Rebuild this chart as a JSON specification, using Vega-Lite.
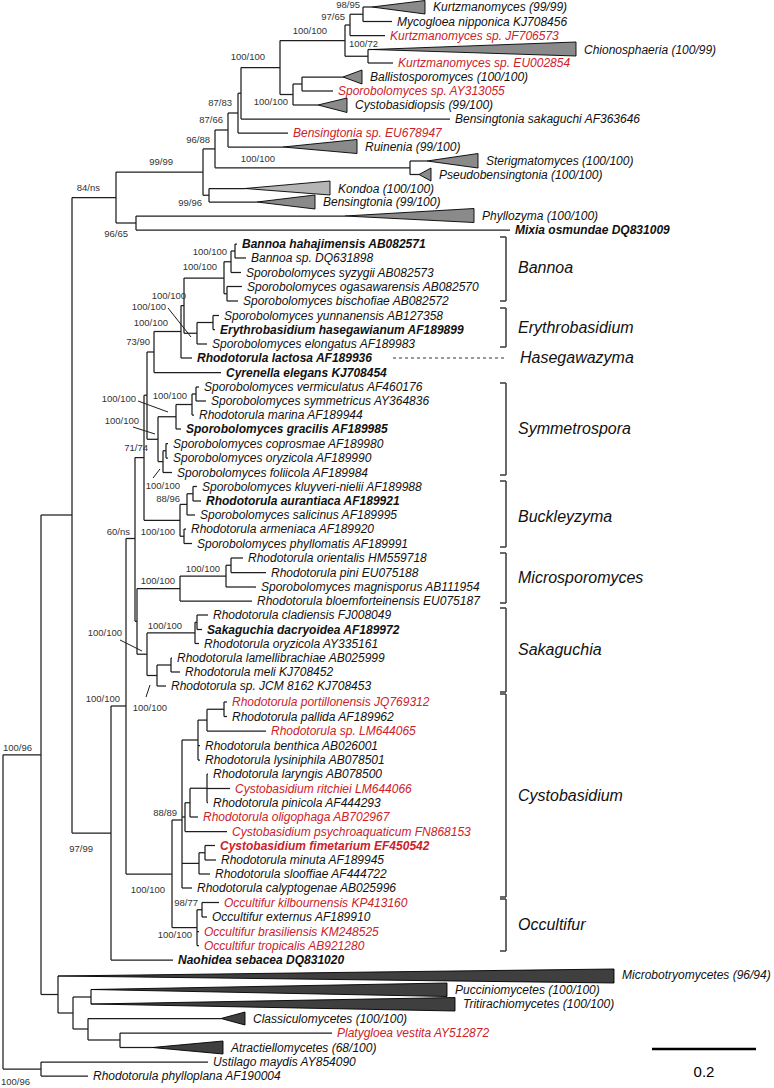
{
  "$schema": "https://vega.github.io/schema/vega-lite/v6.json",
  "width": 774,
  "height": 1088,
  "autosize": {"type": "none"},
  "padding": 0,
  "background": "white",
  "config": {"view": {"stroke": null}},
  "resolve": {"scale": {"color": "independent", "fill": "independent"}},
  "datasets": {
    "v": [
      {"x":3,"y":754.75,"y2":1069},{"x":41,"y":1062,"y2":1076},{"x":41,"y":515,"y2":994.5},{"x":58,"y":976,"y2":1013},
      {"x":73,"y":997,"y2":1029},{"x":91,"y":989.5,"y2":1004},{"x":88,"y":1018.5,"y2":1040},{"x":120,"y":1033,"y2":1047.5},
      {"x":72,"y":197.5,"y2":833},{"x":116,"y":172,"y2":223},{"x":136,"y":216,"y2":230},{"x":203,"y":148.9,"y2":195.25},
      {"x":209,"y":188.5,"y2":202},{"x":215,"y":130,"y2":167.75},{"x":410,"y":161,"y2":174.5},{"x":228,"y":113,"y2":147},
      {"x":238,"y":93.25,"y2":133},{"x":241,"y":67.5,"y2":119},{"x":280,"y":40.5,"y2":94.5},{"x":293,"y":84,"y2":105},
      {"x":302,"y":77,"y2":91},{"x":345,"y":25,"y2":56.25},{"x":350,"y":14.25,"y2":35.5},{"x":363,"y":7,"y2":21.5},
      {"x":368,"y":49.5,"y2":63},{"x":111,"y":706,"y2":960},{"x":126,"y":538.5,"y2":874},{"x":135,"y":457.6,"y2":621.25},
      {"x":144,"y":395.25,"y2":520.3},{"x":147,"y":352,"y2":439.3},{"x":154,"y":331.5,"y2":372.5},{"x":181,"y":305.6,"y2":358},
      {"x":184,"y":278,"y2":333.25},{"x":197,"y":322.5,"y2":344},{"x":213,"y":315.5,"y2":329.5},{"x":224,"y":261.75,"y2":293.75},
      {"x":231,"y":251,"y2":272.5},{"x":235,"y":244,"y2":258},{"x":227,"y":286.5,"y2":301},{"x":158,"y":416.75,"y2":461.6},
      {"x":176,"y":404.5,"y2":429},{"x":192,"y":394,"y2":415},{"x":196,"y":387,"y2":401},{"x":163,"y":450.75,"y2":472.5},
      {"x":166,"y":443.5,"y2":458},{"x":180,"y":504.4,"y2":536.25},{"x":187,"y":493.75,"y2":515},{"x":193,"y":486.5,"y2":501},
      {"x":184,"y":529,"y2":543.5},{"x":137,"y":588.6,"y2":654.2},{"x":180,"y":576.1,"y2":601},{"x":226,"y":565.25,"y2":587},
      {"x":231,"y":558,"y2":572.5},{"x":147,"y":632.9,"y2":675.5},{"x":195,"y":622.25,"y2":643.5},{"x":197,"y":615,"y2":629.5},
      {"x":157,"y":665,"y2":686},{"x":171,"y":658,"y2":672},{"x":172,"y":820,"y2":927.6},{"x":182,"y":740,"y2":888},
      {"x":198,"y":720.1,"y2":760},{"x":207,"y":709.25,"y2":731},{"x":224,"y":702,"y2":716.5},{"x":185,"y":802.75,"y2":831.5},
      {"x":190,"y":788.25,"y2":817},{"x":207,"y":774,"y2":802.5},{"x":199,"y":852.75,"y2":874},{"x":205,"y":845.5,"y2":860},
      {"x":197,"y":909.75,"y2":945.5},{"x":202,"y":902.5,"y2":917}
    ],
    "h": [
      {"x":3,"x2":41,"y":754.75},{"x":3,"x2":41,"y":1069},{"x":41,"x2":208,"y":1062},{"x":41,"x2":88,"y":1076},
      {"x":41,"x2":72,"y":515},{"x":41,"x2":58,"y":994.5},{"x":58,"x2":73,"y":1013},{"x":73,"x2":91,"y":997},
      {"x":73,"x2":88,"y":1029},{"x":88,"x2":221,"y":1018.5},{"x":88,"x2":120,"y":1040},{"x":120,"x2":332,"y":1033},
      {"x":120,"x2":152,"y":1047.5},{"x":72,"x2":116,"y":197.5},{"x":72,"x2":111,"y":833},{"x":116,"x2":203,"y":172},
      {"x":116,"x2":136,"y":223},{"x":136,"x2":345,"y":216},{"x":136,"x2":510,"y":230},{"x":203,"x2":215,"y":148.9},
      {"x":203,"x2":209,"y":195.25},{"x":209,"x2":245,"y":188.5},{"x":209,"x2":257,"y":202},{"x":215,"x2":228,"y":130},
      {"x":215,"x2":410,"y":167.75},{"x":410,"x2":427,"y":161},{"x":410,"x2":419,"y":174.5},{"x":228,"x2":238,"y":113},
      {"x":228,"x2":283,"y":147},{"x":238,"x2":241,"y":93.25},{"x":238,"x2":288,"y":133},{"x":241,"x2":280,"y":67.5},
      {"x":241,"x2":450,"y":119},{"x":280,"x2":345,"y":40.5},{"x":280,"x2":293,"y":94.5},{"x":293,"x2":302,"y":84},
      {"x":293,"x2":318,"y":105},{"x":302,"x2":343,"y":77},{"x":302,"x2":333,"y":91},{"x":345,"x2":350,"y":25},
      {"x":345,"x2":368,"y":56.25},{"x":350,"x2":363,"y":14.25},{"x":350,"x2":385,"y":35.5},{"x":363,"x2":372,"y":7},
      {"x":363,"x2":392,"y":21.5},{"x":368,"x2":372,"y":49.5},{"x":368,"x2":393,"y":63},
      {"x":111,"x2":126,"y":706},{"x":111,"x2":173,"y":960},{"x":126,"x2":135,"y":538.5},{"x":126,"x2":172,"y":874},
      {"x":135,"x2":144,"y":457.6},{"x":135,"x2":137,"y":621.25},{"x":144,"x2":147,"y":395.25},{"x":144,"x2":180,"y":520.3},
      {"x":147,"x2":154,"y":352},{"x":147,"x2":158,"y":439.3},{"x":154,"x2":181,"y":331.5},{"x":154,"x2":221,"y":372.5},
      {"x":181,"x2":184,"y":305.6},{"x":181,"x2":192,"y":358},{"x":184,"x2":224,"y":278},{"x":184,"x2":197,"y":333.25},
      {"x":197,"x2":213,"y":322.5},{"x":197,"x2":207,"y":344},{"x":213,"x2":219,"y":315.5},{"x":213,"x2":215,"y":329.5},
      {"x":224,"x2":231,"y":261.75},{"x":224,"x2":227,"y":293.75},{"x":231,"x2":235,"y":251},{"x":231,"x2":241,"y":272.5},
      {"x":235,"x2":237,"y":244},{"x":235,"x2":246,"y":258},{"x":227,"x2":242,"y":286.5},{"x":227,"x2":238,"y":301},
      {"x":158,"x2":176,"y":416.75},{"x":158,"x2":163,"y":461.6},{"x":176,"x2":192,"y":404.5},{"x":176,"x2":181,"y":429},
      {"x":192,"x2":196,"y":394},{"x":192,"x2":194,"y":415},{"x":196,"x2":199,"y":387},{"x":196,"x2":206,"y":401},
      {"x":163,"x2":166,"y":450.75},{"x":163,"x2":172,"y":472.5},{"x":166,"x2":168,"y":443.5},{"x":166,"x2":168,"y":458},
      {"x":180,"x2":187,"y":504.4},{"x":180,"x2":184,"y":536.25},{"x":187,"x2":193,"y":493.75},{"x":187,"x2":195,"y":515},
      {"x":193,"x2":197,"y":486.5},{"x":193,"x2":201,"y":501},{"x":184,"x2":186,"y":529},{"x":184,"x2":192,"y":543.5},
      {"x":137,"x2":180,"y":588.6},{"x":137,"x2":147,"y":654.2},{"x":180,"x2":226,"y":576.1},{"x":180,"x2":252,"y":601},
      {"x":226,"x2":231,"y":565.25},{"x":226,"x2":256,"y":587},{"x":231,"x2":243,"y":558},{"x":231,"x2":266,"y":572.5},
      {"x":147,"x2":195,"y":632.9},{"x":147,"x2":157,"y":675.5},{"x":195,"x2":197,"y":622.25},{"x":195,"x2":199,"y":643.5},
      {"x":197,"x2":208,"y":615},{"x":197,"x2":202,"y":629.5},{"x":157,"x2":171,"y":665},{"x":157,"x2":166,"y":686},
      {"x":171,"x2":172,"y":658},{"x":171,"x2":180,"y":672},
      {"x":172,"x2":182,"y":820},{"x":172,"x2":197,"y":927.6},{"x":182,"x2":198,"y":740},{"x":182,"x2":185,"y":817},
      {"x":182,"x2":199,"y":863.4},{"x":182,"x2":192,"y":888},{"x":198,"x2":207,"y":720.1},{"x":198,"x2":200,"y":745.5},
      {"x":198,"x2":200,"y":760},{"x":207,"x2":224,"y":709.25},{"x":207,"x2":266,"y":731},{"x":224,"x2":227,"y":702},
      {"x":224,"x2":227,"y":716.5},{"x":185,"x2":190,"y":802.75},{"x":185,"x2":227,"y":831.5},{"x":190,"x2":207,"y":788.25},
      {"x":190,"x2":198,"y":817},{"x":207,"x2":208,"y":774},{"x":207,"x2":230,"y":788.5},{"x":207,"x2":208,"y":802.5},
      {"x":199,"x2":205,"y":852.75},{"x":199,"x2":210,"y":874},{"x":205,"x2":215,"y":845.5},{"x":205,"x2":216,"y":860},
      {"x":197,"x2":202,"y":909.75},{"x":197,"x2":199,"y":931.5},{"x":197,"x2":199,"y":945.5},{"x":202,"x2":219,"y":902.5},
      {"x":202,"x2":207,"y":917}
    ],
    "pointers": [
      {"x":168,"x2":191,"y":308,"y2":337},{"x":138,"x2":168,"y":401,"y2":412},{"x":133,"x2":155,"y":427,"y2":434},
      {"x":153,"x2":160,"y":478,"y2":469},{"x":120,"x2":142,"y":640,"y2":651},{"x":146,"x2":150,"y":697,"y2":685}
    ],
    "triangles": [
      {"clade":"Kurtzmanomyces","x":372,"y":7,"y2":7,"grp":"A"},{"clade":"Kurtzmanomyces","x":425,"y":0.5,"y2":14,"grp":"A"},
      {"clade":"Chionosphaeria","x":372,"y":49.5,"y2":49.5,"grp":"A"},{"clade":"Chionosphaeria","x":576,"y":42,"y2":56,"grp":"A"},
      {"clade":"Ballistosporomyces","x":343,"y":77,"y2":77,"grp":"A"},{"clade":"Ballistosporomyces","x":362,"y":70,"y2":84,"grp":"A"},
      {"clade":"Cystobasidiopsis","x":318,"y":105,"y2":105,"grp":"A"},{"clade":"Cystobasidiopsis","x":347,"y":98,"y2":112.5,"grp":"A"},
      {"clade":"Ruinenia","x":283,"y":147,"y2":147,"grp":"A"},{"clade":"Ruinenia","x":357,"y":139.5,"y2":153.5,"grp":"A"},
      {"clade":"Sterigmatomyces","x":427,"y":161,"y2":161,"grp":"A"},{"clade":"Sterigmatomyces","x":478,"y":153.5,"y2":168,"grp":"A"},
      {"clade":"Pseudobensingtonia","x":419,"y":174.5,"y2":174.5,"grp":"A"},{"clade":"Pseudobensingtonia","x":431,"y":168,"y2":181,"grp":"A"},
      {"clade":"Kondoa","x":245,"y":188.5,"y2":188.5,"grp":"B"},{"clade":"Kondoa","x":330,"y":181,"y2":195,"grp":"B"},
      {"clade":"Bensingtonia","x":257,"y":202,"y2":202,"grp":"A"},{"clade":"Bensingtonia","x":315,"y":195,"y2":209,"grp":"A"},
      {"clade":"Phyllozyma","x":345,"y":216,"y2":216,"grp":"A"},{"clade":"Phyllozyma","x":474,"y":208.5,"y2":222.5,"grp":"A"},
      {"clade":"Microbotryomycetes","x":58,"y":976,"y2":976,"grp":"C"},{"clade":"Microbotryomycetes","x":614,"y":969,"y2":983,"grp":"C"},
      {"clade":"Pucciniomycetes","x":91,"y":989.5,"y2":989.5,"grp":"C"},{"clade":"Pucciniomycetes","x":447,"y":983,"y2":996.5,"grp":"C"},
      {"clade":"Tritirachiomycetes","x":91,"y":1004,"y2":1004,"grp":"C"},{"clade":"Tritirachiomycetes","x":455,"y":997.5,"y2":1011,"grp":"C"},
      {"clade":"Classiculomycetes","x":221,"y":1018.5,"y2":1018.5,"grp":"C"},{"clade":"Classiculomycetes","x":245,"y":1012,"y2":1025,"grp":"C"},
      {"clade":"Atractiellomycetes","x":152,"y":1047.5,"y2":1047.5,"grp":"C"},{"clade":"Atractiellomycetes","x":223,"y":1041,"y2":1054,"grp":"C"}
    ],
    "collapsed": [
      {"label":"Kurtzmanomyces (99/99)","x":425,"y":7},
      {"label":"Chionosphaeria (100/99)","x":576,"y":49.5},
      {"label":"Ballistosporomyces (100/100)","x":362,"y":77},
      {"label":"Cystobasidiopsis (99/100)","x":347,"y":105},
      {"label":"Ruinenia (99/100)","x":357,"y":147},
      {"label":"Sterigmatomyces (100/100)","x":478,"y":161},
      {"label":"Pseudobensingtonia (100/100)","x":431,"y":174.5},
      {"label":"Kondoa (100/100)","x":330,"y":188.5},
      {"label":"Bensingtonia (99/100)","x":315,"y":202},
      {"label":"Phyllozyma (100/100)","x":474,"y":216},
      {"label":"Microbotryomycetes (96/94)","x":614,"y":975},
      {"label":"Pucciniomycetes (100/100)","x":447,"y":989.5},
      {"label":"Tritirachiomycetes (100/100)","x":455,"y":1004},
      {"label":"Classiculomycetes (100/100)","x":245,"y":1018.5},
      {"label":"Atractiellomycetes (68/100)","x":223,"y":1047.5}
    ],
    "leaves": [
      {"label":"Mycogloea nipponica KJ708456","x":392,"y":21.5,"status":"plain","bold":"no"},
      {"label":"Kurtzmanomyces sp. JF706573","x":385,"y":35.5,"status":"highlighted","bold":"no"},
      {"label":"Kurtzmanomyces sp. EU002854","x":393,"y":63,"status":"highlighted","bold":"no"},
      {"label":"Sporobolomyces sp. AY313055","x":333,"y":91,"status":"highlighted","bold":"no"},
      {"label":"Bensingtonia sakaguchi AF363646","x":450,"y":119,"status":"plain","bold":"no"},
      {"label":"Bensingtonia sp. EU678947","x":288,"y":133,"status":"highlighted","bold":"no"},
      {"label":"Mixia osmundae DQ831009","x":510,"y":230,"status":"plain","bold":"yes"},
      {"label":"Bannoa hahajimensis AB082571","x":237,"y":244,"status":"plain","bold":"yes"},
      {"label":"Bannoa sp. DQ631898","x":246,"y":258,"status":"plain","bold":"no"},
      {"label":"Sporobolomyces syzygii AB082573","x":241,"y":272.5,"status":"plain","bold":"no"},
      {"label":"Sporobolomyces ogasawarensis AB082570","x":242,"y":286.5,"status":"plain","bold":"no"},
      {"label":"Sporobolomyces bischofiae AB082572","x":238,"y":301,"status":"plain","bold":"no"},
      {"label":"Sporobolomyces yunnanensis AB127358","x":219,"y":315.5,"status":"plain","bold":"no"},
      {"label":"Erythrobasidium hasegawianum AF189899","x":215,"y":329.5,"status":"plain","bold":"yes"},
      {"label":"Sporobolomyces elongatus AF189983","x":207,"y":344,"status":"plain","bold":"no"},
      {"label":"Rhodotorula lactosa AF189936","x":192,"y":358,"status":"plain","bold":"yes"},
      {"label":"Cyrenella elegans KJ708454","x":221,"y":372.5,"status":"plain","bold":"yes"},
      {"label":"Sporobolomyces vermiculatus AF460176","x":199,"y":387,"status":"plain","bold":"no"},
      {"label":"Sporobolomyces symmetricus AY364836","x":206,"y":401,"status":"plain","bold":"no"},
      {"label":"Rhodotorula marina AF189944","x":194,"y":415,"status":"plain","bold":"no"},
      {"label":"Sporobolomyces gracilis AF189985","x":181,"y":429,"status":"plain","bold":"yes"},
      {"label":"Sporobolomyces coprosmae AF189980","x":168,"y":443.5,"status":"plain","bold":"no"},
      {"label":"Sporobolomyces oryzicola AF189990","x":168,"y":458,"status":"plain","bold":"no"},
      {"label":"Sporobolomyces foliicola AF189984","x":172,"y":472.5,"status":"plain","bold":"no"},
      {"label":"Sporobolomyces kluyveri-nielii AF189988","x":197,"y":486.5,"status":"plain","bold":"no"},
      {"label":"Rhodotorula aurantiaca AF189921","x":201,"y":501,"status":"plain","bold":"yes"},
      {"label":"Sporobolomyces salicinus AF189995","x":195,"y":515,"status":"plain","bold":"no"},
      {"label":"Rhodotorula armeniaca AF189920","x":186,"y":529,"status":"plain","bold":"no"},
      {"label":"Sporobolomyces phyllomatis AF189991","x":192,"y":543.5,"status":"plain","bold":"no"},
      {"label":"Rhodotorula orientalis HM559718","x":243,"y":558,"status":"plain","bold":"no"},
      {"label":"Rhodotorula pini EU075188","x":266,"y":572.5,"status":"plain","bold":"no"},
      {"label":"Sporobolomyces magnisporus AB111954","x":256,"y":587,"status":"plain","bold":"no"},
      {"label":"Rhodotorula bloemforteinensis EU075187","x":252,"y":601,"status":"plain","bold":"no"},
      {"label":"Rhodotorula cladiensis FJ008049","x":208,"y":615,"status":"plain","bold":"no"},
      {"label":"Sakaguchia dacryoidea AF189972","x":202,"y":629.5,"status":"plain","bold":"yes"},
      {"label":"Rhodotorula oryzicola AY335161","x":199,"y":643.5,"status":"plain","bold":"no"},
      {"label":"Rhodotorula lamellibrachiae AB025999","x":172,"y":658,"status":"plain","bold":"no"},
      {"label":"Rhodotorula meli KJ708452","x":180,"y":672,"status":"plain","bold":"no"},
      {"label":"Rhodotorula sp. JCM 8162 KJ708453","x":166,"y":686,"status":"plain","bold":"no"},
      {"label":"Rhodotorula portillonensis JQ769312","x":227,"y":702,"status":"highlighted","bold":"no"},
      {"label":"Rhodotorula pallida AF189962","x":227,"y":716.5,"status":"plain","bold":"no"},
      {"label":"Rhodotorula sp. LM644065","x":266,"y":731,"status":"highlighted","bold":"no"},
      {"label":"Rhodotorula benthica AB026001","x":200,"y":745.5,"status":"plain","bold":"no"},
      {"label":"Rhodotorula lysiniphila AB078501","x":200,"y":760,"status":"plain","bold":"no"},
      {"label":"Rhodotorula laryngis AB078500","x":208,"y":774,"status":"plain","bold":"no"},
      {"label":"Cystobasidium ritchiei LM644066","x":230,"y":788.5,"status":"highlighted","bold":"no"},
      {"label":"Rhodotorula pinicola AF444293","x":208,"y":802.5,"status":"plain","bold":"no"},
      {"label":"Rhodotorula oligophaga AB702967","x":198,"y":817,"status":"highlighted","bold":"no"},
      {"label":"Cystobasidium psychroaquaticum FN868153","x":227,"y":831.5,"status":"highlighted","bold":"no"},
      {"label":"Cystobasidium fimetarium EF450542","x":215,"y":845.5,"status":"highlighted","bold":"yes"},
      {"label":"Rhodotorula minuta AF189945","x":216,"y":860,"status":"plain","bold":"no"},
      {"label":"Rhodotorula slooffiae AF444722","x":210,"y":874,"status":"plain","bold":"no"},
      {"label":"Rhodotorula calyptogenae AB025996","x":192,"y":888,"status":"plain","bold":"no"},
      {"label":"Occultifur kilbournensis KP413160","x":219,"y":902.5,"status":"highlighted","bold":"no"},
      {"label":"Occultifur externus AF189910","x":207,"y":917,"status":"plain","bold":"no"},
      {"label":"Occultifur brasiliensis KM248525","x":199,"y":931.5,"status":"highlighted","bold":"no"},
      {"label":"Occultifur tropicalis AB921280","x":199,"y":945.5,"status":"highlighted","bold":"no"},
      {"label":"Naohidea sebacea DQ831020","x":173,"y":960,"status":"plain","bold":"yes"},
      {"label":"Platygloea vestita AY512872","x":332,"y":1033,"status":"highlighted","bold":"no"},
      {"label":"Ustilago maydis AY854090","x":208,"y":1062,"status":"plain","bold":"no"},
      {"label":"Rhodotorula phylloplana AF190004","x":88,"y":1076,"status":"plain","bold":"no"}
    ],
    "support": [
      {"label":"98/95","x":360,"y":5},{"label":"97/65","x":345,"y":17},{"label":"100/100","x":327,"y":31},
      {"label":"100/72","x":378,"y":44},{"label":"100/100","x":265,"y":57},{"label":"100/100","x":288,"y":102},
      {"label":"87/83","x":232,"y":103},{"label":"87/66","x":223,"y":120},{"label":"96/88","x":210,"y":140},
      {"label":"100/100","x":275,"y":159},{"label":"99/99","x":173,"y":162},{"label":"84/ns","x":100,"y":188},
      {"label":"99/96","x":202,"y":203},{"label":"96/65","x":128,"y":234},{"label":"100/100","x":227,"y":252},
      {"label":"100/100","x":217,"y":267},{"label":"100/100","x":186,"y":296},{"label":"100/100","x":166,"y":307},
      {"label":"100/100","x":168,"y":323},{"label":"73/90","x":150,"y":342},{"label":"100/100","x":187,"y":396},
      {"label":"100/100","x":136,"y":399},{"label":"100/100","x":139,"y":421},{"label":"71/74","x":148,"y":448},
      {"label":"100/100","x":180,"y":486},{"label":"88/96","x":180,"y":499},{"label":"60/ns","x":130,"y":532},
      {"label":"100/100","x":175,"y":532},{"label":"100/100","x":220,"y":569},{"label":"100/100","x":175,"y":581},
      {"label":"100/100","x":182,"y":626},{"label":"100/100","x":122,"y":633},{"label":"100/100","x":120,"y":699},
      {"label":"100/100","x":167,"y":708},{"label":"100/96","x":32,"y":748},{"label":"88/89","x":177,"y":813},
      {"label":"97/99","x":93,"y":849},{"label":"100/100","x":165,"y":890},{"label":"98/77","x":198,"y":903},
      {"label":"100/100","x":192,"y":935},{"label":"100/96","x":30,"y":1082}
    ],
    "brackets": [
      {"clade":"Bannoa","x":506,"tick":500,"lx":518,"top":237,"bottom":301,"mid":268},
      {"clade":"Erythrobasidium","x":506,"tick":500,"lx":518,"top":308,"bottom":347,"mid":328},
      {"clade":"Symmetrospora","x":506,"tick":500,"lx":518,"top":383,"bottom":475,"mid":429},
      {"clade":"Buckleyzyma","x":506,"tick":500,"lx":518,"top":481,"bottom":547,"mid":517},
      {"clade":"Microsporomyces","x":506,"tick":500,"lx":518,"top":553,"bottom":603,"mid":578},
      {"clade":"Sakaguchia","x":506,"tick":500,"lx":518,"top":608,"bottom":692,"mid":650},
      {"clade":"Cystobasidium","x":506,"tick":500,"lx":518,"top":694,"bottom":897,"mid":796},
      {"clade":"Occultifur","x":506,"tick":500,"lx":518,"top":899,"bottom":951,"mid":925}
    ],
    "dashed": [{"clade":"Hasegawazyma","x":393,"x2":505,"y":358,"lx":520}],
    "scalebar": [{"len":"0.2","x":652,"x2":756,"y":1049,"lx":704,"ly":1072}]
  },
  "layer": [
    {
      "data": {"name": "v"},
      "mark": {"type": "rule", "color": "#1e1e1e", "strokeWidth": 1.25},
      "encoding": {
        "x": {"field": "x", "type": "quantitative", "scale": {"domain": [0, 774], "nice": false, "zero": false}, "axis": null},
        "y": {"field": "y", "type": "quantitative", "scale": {"domain": [0, 1088], "nice": false, "zero": false, "reverse": true}, "axis": null},
        "y2": {"field": "y2"}
      }
    },
    {
      "data": {"name": "h"},
      "mark": {"type": "rule", "color": "#1e1e1e", "strokeWidth": 1.25},
      "encoding": {
        "x": {"field": "x", "type": "quantitative", "axis": null},
        "x2": {"field": "x2"},
        "y": {"field": "y", "type": "quantitative", "axis": null}
      }
    },
    {
      "data": {"name": "pointers"},
      "mark": {"type": "rule", "color": "#1e1e1e", "strokeWidth": 1},
      "encoding": {
        "x": {"field": "x", "type": "quantitative", "axis": null},
        "x2": {"field": "x2"},
        "y": {"field": "y", "type": "quantitative", "axis": null},
        "y2": {"field": "y2"}
      }
    },
    {
      "data": {"name": "triangles"},
      "mark": {"type": "area", "stroke": "#000000", "strokeWidth": 0.9},
      "encoding": {
        "x": {"field": "x", "type": "quantitative", "axis": null},
        "y": {"field": "y", "type": "quantitative", "axis": null},
        "y2": {"field": "y2"},
        "detail": {"field": "clade", "type": "nominal"},
        "fill": {"field": "grp", "type": "nominal", "scale": {"domain": ["A", "B", "C"], "range": ["#8a8a8a", "#b5b5b5", "#3f3f3f"]}, "legend": null}
      }
    },
    {
      "data": {"name": "collapsed"},
      "mark": {"type": "text", "align": "left", "baseline": "middle", "dx": 8, "fontSize": 12, "fontStyle": "italic", "font": "Liberation Sans", "color": "#111111"},
      "encoding": {
        "x": {"field": "x", "type": "quantitative", "axis": null},
        "y": {"field": "y", "type": "quantitative", "axis": null},
        "text": {"field": "label", "type": "nominal"}
      }
    },
    {
      "data": {"name": "leaves"},
      "mark": {"type": "text", "align": "left", "baseline": "middle", "dx": 5, "fontSize": 12, "fontStyle": "italic", "font": "Liberation Sans"},
      "transform": [{"filter": "datum.bold == 'no'"}],
      "encoding": {
        "x": {"field": "x", "type": "quantitative", "axis": null},
        "y": {"field": "y", "type": "quantitative", "axis": null},
        "text": {"field": "label", "type": "nominal"},
        "color": {"field": "status", "type": "nominal", "scale": {"domain": ["plain", "highlighted"], "range": ["#111111", "#cc2229"]}, "legend": null}
      }
    },
    {
      "data": {"name": "leaves"},
      "mark": {"type": "text", "align": "left", "baseline": "middle", "dx": 5, "fontSize": 12, "fontStyle": "italic", "fontWeight": "bold", "font": "Liberation Sans"},
      "transform": [{"filter": "datum.bold == 'yes'"}],
      "encoding": {
        "x": {"field": "x", "type": "quantitative", "axis": null},
        "y": {"field": "y", "type": "quantitative", "axis": null},
        "text": {"field": "label", "type": "nominal"},
        "color": {"field": "status", "type": "nominal", "scale": {"domain": ["plain", "highlighted"], "range": ["#111111", "#cc2229"]}, "legend": null}
      }
    },
    {
      "data": {"name": "support"},
      "mark": {"type": "text", "align": "right", "baseline": "middle", "fontSize": 9.5, "font": "Liberation Sans", "color": "#333333"},
      "encoding": {
        "x": {"field": "x", "type": "quantitative", "axis": null},
        "y": {"field": "y", "type": "quantitative", "axis": null},
        "text": {"field": "label", "type": "nominal"}
      }
    },
    {
      "data": {"name": "brackets"},
      "mark": {"type": "rule", "color": "#444444", "strokeWidth": 1.6},
      "encoding": {
        "x": {"field": "x", "type": "quantitative", "axis": null},
        "y": {"field": "top", "type": "quantitative", "axis": null},
        "y2": {"field": "bottom"}
      }
    },
    {
      "data": {"name": "brackets"},
      "mark": {"type": "rule", "color": "#444444", "strokeWidth": 1.6},
      "encoding": {
        "x": {"field": "tick", "type": "quantitative", "axis": null},
        "x2": {"field": "x"},
        "y": {"field": "top", "type": "quantitative", "axis": null}
      }
    },
    {
      "data": {"name": "brackets"},
      "mark": {"type": "rule", "color": "#444444", "strokeWidth": 1.6},
      "encoding": {
        "x": {"field": "tick", "type": "quantitative", "axis": null},
        "x2": {"field": "x"},
        "y": {"field": "bottom", "type": "quantitative", "axis": null}
      }
    },
    {
      "data": {"name": "brackets"},
      "mark": {"type": "text", "align": "left", "baseline": "middle", "fontSize": 16, "fontStyle": "italic", "font": "Liberation Sans", "color": "#111111"},
      "encoding": {
        "x": {"field": "lx", "type": "quantitative", "axis": null},
        "y": {"field": "mid", "type": "quantitative", "axis": null},
        "text": {"field": "clade", "type": "nominal"}
      }
    },
    {
      "data": {"name": "dashed"},
      "mark": {"type": "rule", "color": "#333333", "strokeWidth": 1, "strokeDash": [3, 3]},
      "encoding": {
        "x": {"field": "x", "type": "quantitative", "axis": null},
        "x2": {"field": "x2"},
        "y": {"field": "y", "type": "quantitative", "axis": null}
      }
    },
    {
      "data": {"name": "dashed"},
      "mark": {"type": "text", "align": "left", "baseline": "middle", "fontSize": 16, "fontStyle": "italic", "font": "Liberation Sans", "color": "#111111"},
      "encoding": {
        "x": {"field": "lx", "type": "quantitative", "axis": null},
        "y": {"field": "y", "type": "quantitative", "axis": null},
        "text": {"field": "clade", "type": "nominal"}
      }
    },
    {
      "data": {"name": "scalebar"},
      "mark": {"type": "rule", "color": "#000000", "strokeWidth": 2.6},
      "encoding": {
        "x": {"field": "x", "type": "quantitative", "axis": null},
        "x2": {"field": "x2"},
        "y": {"field": "y", "type": "quantitative", "axis": null}
      }
    },
    {
      "data": {"name": "scalebar"},
      "mark": {"type": "text", "align": "center", "baseline": "middle", "fontSize": 15, "font": "Liberation Sans", "color": "#000000"},
      "encoding": {
        "x": {"field": "lx", "type": "quantitative", "axis": null},
        "y": {"field": "ly", "type": "quantitative", "axis": null},
        "text": {"field": "len", "type": "nominal"}
      }
    }
  ]
}
